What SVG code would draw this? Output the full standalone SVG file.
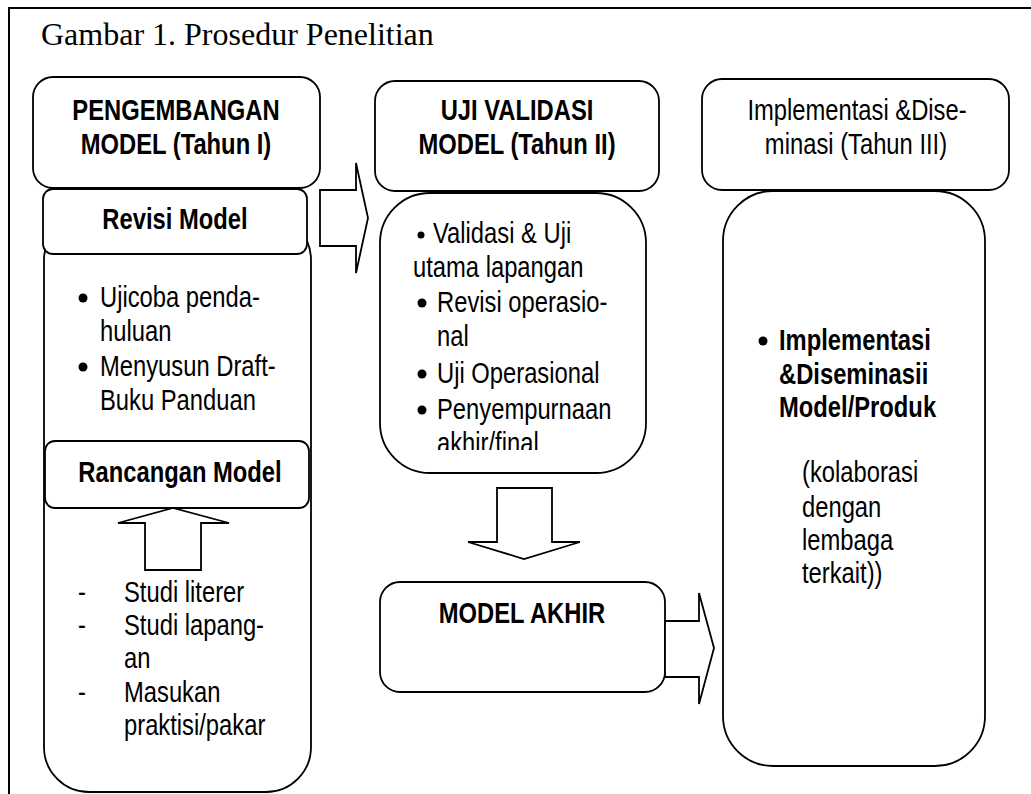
<svg xmlns="http://www.w3.org/2000/svg" width="1031" height="794" viewBox="0 0 1031 794">
<style>
.box{fill:#fff;stroke:#000;stroke-width:1.8}
.arr{fill:#fff;stroke:#000;stroke-width:1.8;stroke-linejoin:miter}
.t{font-family:"Liberation Sans Narrow","Arial Narrow","Liberation Sans",Arial,sans-serif;font-size:29px;fill:#000}
.b{font-weight:bold}
.m{text-anchor:middle}
.title{font-family:"Liberation Serif","Times New Roman",serif;font-size:32px;fill:#000}
</style>
<defs>
<clipPath id="clip2"><rect x="380" y="193" width="266" height="257"/></clipPath>
</defs>
<rect width="1031" height="794" fill="#fff"/>
<path d="M9,794 V8 H1031" fill="none" stroke="#000" stroke-width="2"/>
<text class="title" x="41" y="45">Gambar 1. Prosedur Penelitian</text>

<g id="node-pengembangan">
<rect class="box" x="33" y="77" width="287" height="111" rx="20"/>
<text class="t b m" transform="translate(176,120) scale(0.82,1)">PENGEMBANGAN</text>
<text class="t b m" transform="translate(176,154) scale(0.82,1)">MODEL (Tahun I)</text>
</g>

<g id="node-tahun1-body">
<rect class="box" x="44" y="215" width="267" height="577" rx="45"/>
<circle cx="83" cy="298" r="4.5"/>
<text class="t" transform="translate(100,307) scale(0.82,1)">Ujicoba penda-</text>
<text class="t" transform="translate(100,341) scale(0.82,1)">huluan</text>
<circle cx="83" cy="367" r="4.5"/>
<text class="t" transform="translate(100,376) scale(0.82,1)">Menyusun Draft-</text>
<text class="t" transform="translate(100,410) scale(0.82,1)">Buku Panduan</text>
<text class="t" transform="translate(78,602) scale(0.82,1)">-</text>
<text class="t" transform="translate(124,602) scale(0.82,1)">Studi literer</text>
<text class="t" transform="translate(78,635) scale(0.82,1)">-</text>
<text class="t" transform="translate(124,635) scale(0.82,1)">Studi lapang-</text>
<text class="t" transform="translate(124,668) scale(0.82,1)">an</text>
<text class="t" transform="translate(78,702) scale(0.82,1)">-</text>
<text class="t" transform="translate(124,702) scale(0.82,1)">Masukan</text>
<text class="t" transform="translate(124,735) scale(0.82,1)">praktisi/pakar</text>
</g>

<g id="node-revisi">
<rect class="box" x="43" y="189" width="264" height="65" rx="10"/>
<text class="t b m" transform="translate(175,229) scale(0.82,1)">Revisi Model</text>
</g>

<g id="node-rancangan">
<rect class="box" x="45" y="441" width="264" height="67" rx="10"/>
<text class="t b m" transform="translate(180,482) scale(0.82,1)">Rancangan Model</text>
</g>

<g id="node-uji">
<rect class="box" x="375" y="81" width="284" height="110" rx="20"/>
<text class="t b m" transform="translate(517,120) scale(0.82,1)">UJI VALIDASI</text>
<text class="t b m" transform="translate(517,154) scale(0.82,1)">MODEL (Tahun II)</text>
</g>

<g id="node-uji-body">
<rect class="box" x="380" y="193" width="266" height="280" rx="50"/>
<g clip-path="url(#clip2)">
<circle cx="421" cy="235" r="3.5"/>
<text class="t" transform="translate(433,243) scale(0.82,1)">Validasi &amp; Uji</text>
<text class="t" transform="translate(413,277) scale(0.82,1)">utama lapangan</text>
<circle cx="422" cy="303" r="4.5"/>
<text class="t" transform="translate(437,312) scale(0.82,1)">Revisi operasio-</text>
<text class="t" transform="translate(437,346) scale(0.82,1)">nal</text>
<circle cx="422" cy="374" r="4.5"/>
<text class="t" transform="translate(437,383) scale(0.82,1)">Uji Operasional</text>
<circle cx="422" cy="410" r="4.5"/>
<text class="t" transform="translate(437,419) scale(0.82,1)">Penyempurnaan</text>
<text class="t" transform="translate(437,453) scale(0.82,1)">akhir/final</text>
</g>
</g>

<g id="node-model-akhir">
<rect class="box" x="380" y="582" width="285" height="110" rx="20"/>
<text class="t b m" transform="translate(522,623) scale(0.82,1)">MODEL AKHIR</text>
</g>

<g id="node-implementasi">
<rect class="box" x="702" y="79" width="307" height="111" rx="20"/>
<text class="t m" transform="translate(857,120) scale(0.82,1)">Implementasi &amp;Dise-</text>
<text class="t m" transform="translate(856,154) scale(0.82,1)">minasi (Tahun III)</text>
</g>

<g id="node-implementasi-body">
<rect class="box" x="723" y="191" width="262" height="575" rx="50"/>
<circle cx="763" cy="341" r="4.5"/>
<text class="t b" transform="translate(779,350) scale(0.82,1)">Implementasi</text>
<text class="t b" transform="translate(779,384) scale(0.82,1)">&amp;Diseminasii</text>
<text class="t b" transform="translate(779,417) scale(0.82,1)">Model/Produk</text>
<text class="t" transform="translate(802,482) scale(0.82,1)">(kolaborasi</text>
<text class="t" transform="translate(802,517) scale(0.82,1)">dengan</text>
<text class="t" transform="translate(802,550) scale(0.82,1)">lembaga</text>
<text class="t" transform="translate(802,583) scale(0.82,1)">terkait))</text>
</g>

<g id="connectors">
<polygon class="arr" points="173,508 229,523 201,523 201,570 145,570 145,523 118,523"/>
<polygon class="arr" points="320,190 356,190 356,163 368,218 356,273 356,246 320,246"/>
<polygon class="arr" points="497,488 552,488 552,542 580,542 524,559 468,542 497,542"/>
<polygon class="arr" points="665,621 699,621 699,593 714,648 699,704 699,677 665,677"/>
</g>
</svg>
